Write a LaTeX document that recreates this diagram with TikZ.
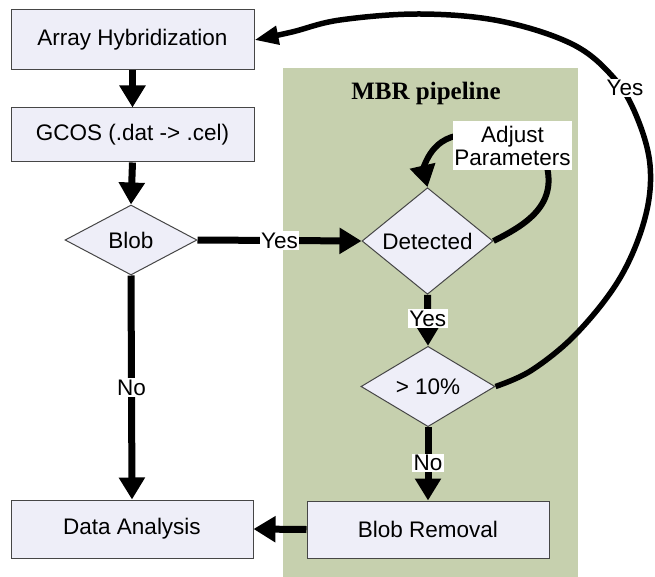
\documentclass[tikz,border=0pt]{standalone}
\usepackage{fontspec}
\setmainfont{Liberation Sans}
\newfontfamily\titlefont{Liberation Serif}
\usetikzlibrary{shapes.geometric,arrows.meta}
\definecolor{mbrgreen}{RGB}{198,208,174}
\definecolor{boxfill}{RGB}{238,238,248}
\definecolor{boxline}{RGB}{70,70,70}
\tikzset{
  stepbox/.style={draw=boxline,line width=1pt,fill=boxfill,rectangle,inner sep=0pt,
    font=\fontsize{22.5}{26}\selectfont},
  decision/.style={draw=boxline,line width=1pt,fill=boxfill,diamond,inner sep=0pt,
    font=\fontsize{22.5}{26}\selectfont},
  flow/.style={line width=7pt,-{Triangle[width=25pt,length=22pt]}},
  lbl/.style={fill=white,inner sep=1.5pt,font=\fontsize{22.5}{26}\selectfont}
}
\begin{document}
\begin{tikzpicture}[x=1pt,y=-1pt]
\useasboundingbox[fill=white] (0,0) rectangle (655,577);
% MBR pipeline background
\fill[mbrgreen] (283,68) rectangle (578,577);
\node (title) at (426,93) {\titlefont\bfseries\fontsize{25}{29}\selectfont MBR pipeline};

% nodes
\node[stepbox,minimum width=243pt,minimum height=60pt] (arr) at (132.5,40) {Array Hybridization};
\node[stepbox,minimum width=243pt,minimum height=54pt] (gcos) at (132.5,135) {GCOS (.dat -> .cel)};
\node[decision,minimum width=132pt,minimum height=70pt] (blob) at (131,240) {Blob};
\node[decision,minimum width=131pt,minimum height=72pt] (det) at (427.5,241) {Detected};
\node[decision,minimum width=134pt,minimum height=71pt] (gt) at (428,386.5) {> 10\%};
\node[stepbox,minimum width=242pt,minimum height=57pt] (br) at (428,529.5) {Blob Removal};
\node[stepbox,minimum width=242pt,minimum height=58pt] (da) at (132,529) {Data Analysis};

% straight connectors
\draw[flow] (arr.south) -- (gcos.north);
\draw[flow] (gcos.south) -- (blob.north);
\draw[flow] (blob.east) -- node[lbl] {Yes} (det.west);
\draw[flow] (blob.south) -- node[lbl] {No} (da.north);
\draw[flow] (det.south) -- node[lbl,pos=0.47] {Yes} (gt.north);
\draw[flow] (gt.south) -- node[lbl,pos=0.49] {No} (br.north);
\draw[flow] (br.west) -- (da.east);

% adjust parameters loop
\draw[line width=6pt,-{Triangle[width=25pt,length=22pt]}]
  (det.east) .. controls (525,225) and (560,205) .. (545,160)
  -- (462,135) .. controls (428,138) and (424,172) .. (det.north);
\node[fill=white,inner sep=0pt,minimum width=119pt,minimum height=49pt,align=center,
  font=\fontsize{22.5}{23}\selectfont] (adj) at (512.5,145.5) {Adjust\\Parameters};

% big yes loop back
\draw[line width=5.5pt,-{Triangle[width=18pt,length=24pt]}]
  plot[smooth,tension=0.6] coordinates {(gt.east) (532,370) (577,333) (620,278) (645,218)
  (650,165) (636,115) (613,77) (572,44) (500,21) (420,14) (340,20) (292,32) (arr.east)};
\node[lbl] (yes3) at (625,88) {Yes};
\end{tikzpicture}
\end{document}
